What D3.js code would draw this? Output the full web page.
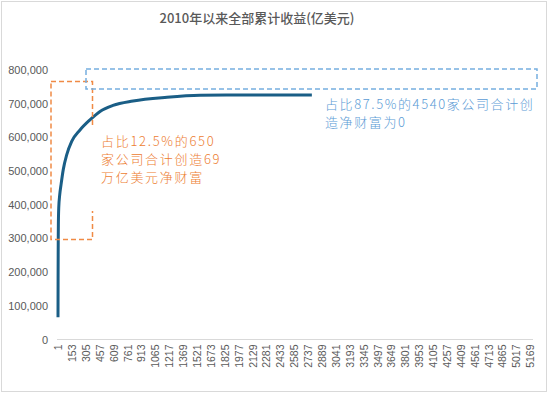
<!DOCTYPE html>
<html><head><meta charset="utf-8">
<script src="https://cdn.jsdelivr.net/npm/d3@7"></script>
<style>
html,body{margin:0;padding:0;background:#fff;}
svg{display:block;}
</style></head>
<body>
<script>
// ---- data ----
const title = "2010年以来全部累计收益(亿美元)";
const companyRank = [1, 2, 3, 4, 5, 9, 20, 34, 59, 96, 151, 242, 351, 461, 603, 822, 1194, 1556, 2000, 2780];
const cumulativeWealth = [66000, 180000, 260000, 310000, 340000, 390000, 430000, 459000, 505000, 548000, 588000, 622000, 652000, 677000, 695000, 708000, 719000, 725000, 726000, 726000];
const totalCompanies = 5190;
const xTickLabels = d3.range(1, 5190, 152);
const yTickLabels = [0, 100000, 200000, 300000, 400000, 500000, 600000, 700000, 800000];
const noteTop = ["占比12.5%的650", "家公司合计创造69", "万亿美元净财富"];
const noteRest = ["占比87.5%的4540家公司合计创", "造净财富为0"];

const W = 550, H = 395;
const svg = d3.select("body").append("svg").attr("width", W).attr("height", H);

// frame
svg.append("rect").attr("x", 1.5).attr("y", 1.5).attr("width", 545).attr("height", 390)
  .attr("fill", "#fff").attr("stroke", "#d9d9d9").attr("stroke-width", 1);

// title
svg.append("text").attr("x", 257).attr("y", 23).attr("text-anchor", "middle")
  .attr("font-family", "'Noto Sans CJK SC', 'Noto Sans', sans-serif")
  .attr("font-size", 13).attr("font-weight", 500).attr("fill", "#595959").text(title);

const x = d3.scaleLinear().domain([1, totalCompanies]).range([58, 532]);
const y = d3.scaleLinear().domain([0, 800000]).range([339.5, 70]);

// y axis labels
const yAxis = d3.axisLeft(y).tickValues(yTickLabels).tickSize(0).tickPadding(0)
  .tickFormat(d3.format(","));
const gy = svg.append("g").attr("transform", "translate(48,0)").call(yAxis);
gy.select(".domain").remove();
gy.selectAll("text").attr("font-family", "'Liberation Sans', Arial, sans-serif")
  .attr("font-size", 11).attr("fill", "#595959");

// x axis
const xAxis = d3.axisBottom(x).tickValues(xTickLabels).tickSize(0).tickFormat(d3.format("d"));
const gx = svg.append("g").attr("transform", "translate(0,339.5)").call(xAxis);
gx.select(".domain").attr("d", "M57,0H533").attr("stroke", "#d9d9d9").attr("stroke-width", 1);
gx.selectAll("text")
  .attr("font-family", "'Liberation Sans', Arial, sans-serif")
  .attr("font-size", 10.5).attr("fill", "#595959")
  .attr("transform", "rotate(-90)")
  .attr("text-anchor", "end")
  .attr("x", -5).attr("y", 0).attr("dy", "0.35em");

// line
const pts = companyRank.map((r, i) => [r, cumulativeWealth[i]]);
svg.append("path").datum(pts)
  .attr("fill", "none").attr("stroke", "#1a5e86").attr("stroke-width", 3)
  .attr("stroke-linejoin", "round")
  .attr("d", d3.line().x(d => x(d[0])).y(d => y(d[1])).curve(d3.curveMonotoneX));

// annotations
const orange = "#ED7D31", blue = "#5B9BD5";
// orange dashed box
svg.append("rect").attr("x", 51).attr("y", 81.5).attr("width", 41.5).attr("height", 158)
  .attr("fill", "none").attr("stroke", "#F08A45").attr("stroke-width", 1.5).attr("stroke-dasharray", "5,3");
// blue dashed box
svg.append("rect").attr("x", 86).attr("y", 69).attr("width", 451).attr("height", 20)
  .attr("fill", "none").attr("stroke", "#76AEE0").attr("stroke-width", 1.5).attr("stroke-dasharray", "5,3");

// orange text box (white fill covers part of dashed box)
svg.append("rect").attr("x", 91).attr("y", 128).attr("width", 120).attr("height", 83).attr("fill", "#fff");
const t1 = svg.append("text").attr("font-family", "'Noto Sans CJK SC', sans-serif")
  .attr("font-size", 13).attr("font-weight", 300).attr("letter-spacing", 1.7).attr("fill", orange);
noteTop.forEach((s, i) => t1.append("tspan").attr("x", 101).attr("y", 146 + i * 18).text(s));

const t2 = svg.append("text").attr("font-family", "'Noto Sans CJK SC', sans-serif")
  .attr("font-size", 13).attr("font-weight", 300).attr("letter-spacing", 1.6).attr("fill", blue);
noteRest.forEach((s, i) => t2.append("tspan").attr("x", 325).attr("y", 109 + i * 17.5).text(s));
</script>
</body></html>
